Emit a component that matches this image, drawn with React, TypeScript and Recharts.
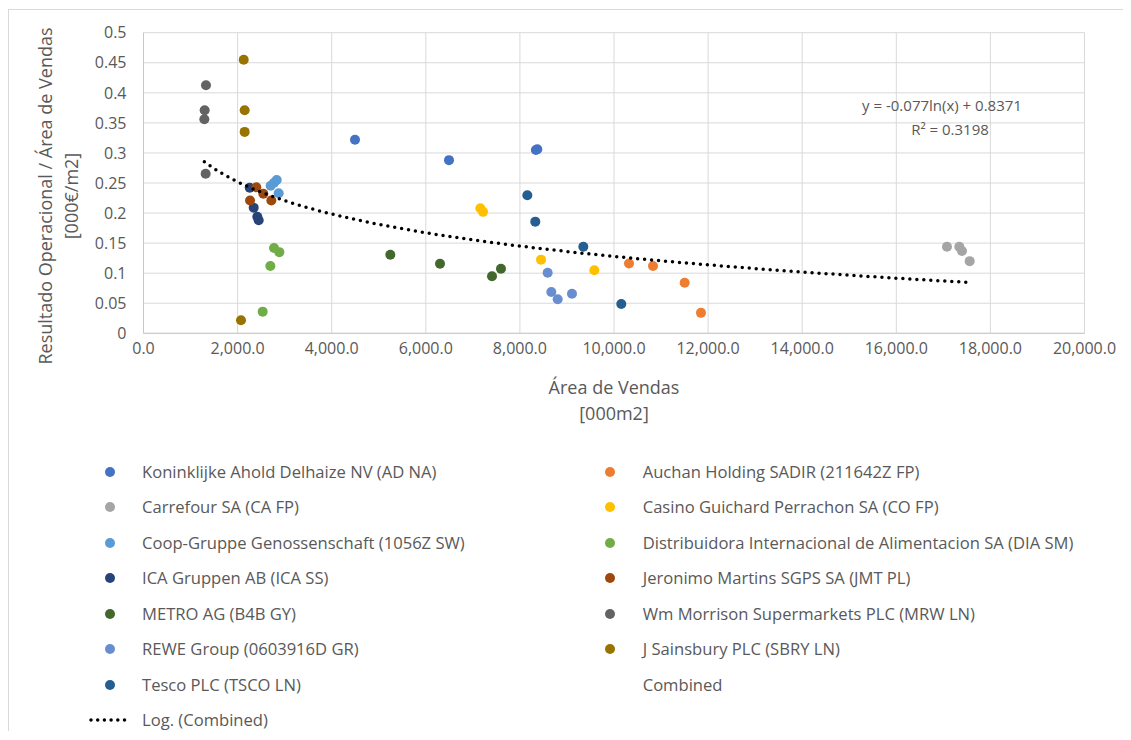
import React from 'react';
import { ScatterChart, Scatter, XAxis, YAxis, CartesianGrid } from 'recharts';

// ---- Data ----
const seriesNames = [
  'Koninklijke Ahold Delhaize NV (AD NA)',
  'Auchan Holding SADIR (211642Z FP)',
  'Carrefour SA (CA FP)',
  'Casino Guichard Perrachon SA (CO FP)',
  'Coop-Gruppe Genossenschaft (1056Z SW)',
  'Distribuidora Internacional de Alimentacion SA (DIA SM)',
  'ICA Gruppen AB (ICA SS)',
  'Jeronimo Martins SGPS SA (JMT PL)',
  'METRO AG (B4B GY)',
  'Wm Morrison Supermarkets PLC (MRW LN)',
  'REWE Group (0603916D GR)',
  'J Sainsbury PLC (SBRY LN)',
  'Tesco PLC (TSCO LN)',
];
const seriesColors = [
  '#4472C4', '#ED7D31', '#A5A5A5', '#FFC000', '#5B9BD5', '#70AD47',
  '#264478', '#9E480E', '#43682B', '#636363', '#698ED0', '#997300', '#255E91',
];

const aholdArea = [4495, 6493, 8340, 8370];
const aholdResult = [0.322, 0.288, 0.305, 0.306];
const auchanArea = [10319, 10829, 11502, 11849];
const auchanResult = [0.116, 0.112, 0.084, 0.034];
const carrefourArea = [17077, 17339, 17396, 17560];
const carrefourResult = [0.144, 0.144, 0.137, 0.12];
const casinoArea = [7159, 7216, 8449, 9582];
const casinoResult = [0.208, 0.202, 0.1225, 0.105];
const coopArea = [2703, 2774, 2831, 2873];
const coopResult = [0.2455, 0.2505, 0.255, 0.233];
const diaArea = [2774, 2887, 2696, 2533];
const diaResult = [0.142, 0.135, 0.112, 0.036];
const icaArea = [2257, 2342, 2419, 2448];
const icaResult = [0.242, 0.209, 0.194, 0.188];
const jmtArea = [2398, 2547, 2264, 2717];
const jmtResult = [0.243, 0.232, 0.221, 0.221];
const metroArea = [5246, 6302, 7407, 7598];
const metroResult = [0.1307, 0.1158, 0.0948, 0.1075];
const morrisonArea = [1328, 1300, 1293, 1321];
const morrisonResult = [0.4125, 0.371, 0.356, 0.2655];
const reweArea = [8590, 8668, 8803, 9107];
const reweResult = [0.1008, 0.0687, 0.0566, 0.0659];
const sainsburyArea = [2130, 2150, 2150, 2072];
const sainsburyResult = [0.455, 0.371, 0.335, 0.0216];
const tescoArea = [8158, 8327, 9348, 10155];
const tescoResult = [0.2295, 0.1857, 0.144, 0.0487];

const seriesArea = [aholdArea, auchanArea, carrefourArea, casinoArea, coopArea, diaArea,
  icaArea, jmtArea, metroArea, morrisonArea, reweArea, sainsburyArea, tescoArea];
const seriesResult = [aholdResult, auchanResult, carrefourResult, casinoResult, coopResult, diaResult,
  icaResult, jmtResult, metroResult, morrisonResult, reweResult, sainsburyResult, tescoResult];

const xTicks = [0, 2000, 4000, 6000, 8000, 10000, 12000, 14000, 16000, 18000, 20000];
const yTicks = [0, 0.05, 0.1, 0.15, 0.2, 0.25, 0.3, 0.35, 0.4, 0.45, 0.5];

// Logarithmic trendline of the combined series, as printed on the chart
const TREND_SLOPE = -0.077;
const TREND_INTERCEPT = 0.8371;
const trendLabel = 'y = -0.077ln(x) + 0.8371';
const r2Label = 'R² = 0.3198';

const xTitle = ['Área de Vendas', '[000m2]'];
const yTitle = ['Resultado Operacional / Área de Vendas', '[000€/m2]'];

// ---- Derived ----
const series = seriesNames.map((name, i) => ({
  name,
  color: seriesColors[i],
  data: seriesArea[i].map((x, j) => ({ x, y: seriesResult[i][j] })),
}));
const allX = seriesArea.flat();
const minX = Math.min(...allX);
const maxX = Math.max(...allX);
const TREND_STEPS = 80;
const trendData = Array.from({ length: TREND_STEPS + 1 }, (_, k) => {
  const x = minX + ((maxX - minX) * k) / TREND_STEPS;
  return { x, y: TREND_SLOPE * Math.log(x) + TREND_INTERCEPT };
});

const FONT = '"Open Sans", "Noto Sans", sans-serif';
const TEXT = '#595959';

const fmtX = (v: number) => v.toLocaleString('en-US', { minimumFractionDigits: 1, maximumFractionDigits: 1 });
const fmtY = (v: number) => String(Number(v.toFixed(2)));

const legendItems = [
  ...series.map((s) => ({ name: s.name, color: s.color, kind: 'dot' })),
  { name: 'Combined', color: 'none', kind: 'none' },
  { name: 'Log. (Combined)', color: '#000', kind: 'line' },
];

// page -> content coordinates (content box origin at page (9,10))
const OX = 9;
const OY = 10;

export default function App() {
  return (
    <div
      style={{
        position: 'relative',
        top: 1,
        width: 1122,
        height: 722,
        borderLeft: '1px solid #d9d9d9',
        borderTop: '1px solid #d9d9d9',
        fontFamily: FONT,
        color: TEXT,
        overflow: 'hidden',
      }}
    >
      <div style={{ position: 'absolute', left: 0, top: 0 }}>
        <ScatterChart
          width={1114}
          height={360}
          margin={{ top: 22.7, right: 38.5, left: 0, bottom: 6.7 }}
        >
          <CartesianGrid stroke="#d9d9d9" strokeWidth={1} />
          <XAxis
            type="number"
            dataKey="x"
            domain={[0, 20000]}
            ticks={xTicks}
            tickFormatter={fmtX}
            tickLine={false}
            tickSize={0}
            tickMargin={9}
            height={30}
            axisLine={{ stroke: '#c8c8c8' }}
            tick={{ fill: TEXT, fontSize: 16, fontFamily: FONT }}
            interval={0}
            allowDataOverflow
          />
          <YAxis
            type="number"
            dataKey="y"
            domain={[0, 0.5]}
            ticks={yTicks}
            tickFormatter={fmtY}
            tickLine={false}
            tickSize={0}
            tickMargin={17}
            width={134.5}
            axisLine={{ stroke: '#c8c8c8' }}
            tick={{ fill: TEXT, fontSize: 16, fontFamily: FONT }}
            interval={0}
            allowDataOverflow
          />
          {series.map((s) => (
            <Scatter
              key={s.name}
              name={s.name}
              data={s.data}
              fill={s.color}
              isAnimationActive={false}
              shape={(p: any) => <circle cx={p.cx} cy={p.cy} r={5} fill={s.color} />}
            />
          ))}
          <Scatter
            name="Log. (Combined)"
            data={trendData}
            isAnimationActive={false}
            line={{ stroke: '#000', strokeWidth: 3.5, strokeDasharray: '0 7', strokeLinecap: 'round', fill: 'none' }}
            lineType="joint"
            shape={() => <g />}
          />
        </ScatterChart>
      </div>

      {/* Trendline equation */}
      <div style={{ position: 'absolute', left: 942 - OX, top: 105 - OY, transform: 'translate(-50%, -50%)', fontSize: 15, whiteSpace: 'nowrap' }}>
        {trendLabel}
      </div>
      <div style={{ position: 'absolute', left: 950 - OX, top: 129 - OY, transform: 'translate(-50%, -50%)', fontSize: 15, whiteSpace: 'nowrap' }}>
        {r2Label}
      </div>

      {/* X axis title */}
      <div style={{ position: 'absolute', left: 614 - OX, top: 400 - OY, transform: 'translate(-50%, -50%)', fontSize: 18, lineHeight: '26px', textAlign: 'center', whiteSpace: 'nowrap' }}>
        <div>{xTitle[0]}</div>
        <div>{xTitle[1]}</div>
      </div>

      {/* Y axis title */}
      <div style={{ position: 'absolute', left: 58 - OX, top: 196 - OY, transform: 'translate(-50%, -50%) rotate(-90deg)', fontSize: 18, lineHeight: '26px', textAlign: 'center', whiteSpace: 'nowrap' }}>
        <div>{yTitle[0]}</div>
        <div>{yTitle[1]}</div>
      </div>

      {/* Legend */}
      {legendItems.map((it, i) => {
        const row = Math.floor(i / 2);
        const col = i % 2;
        const cy = 471.5 + row * 35.5 - OY;
        const markerX = (col === 0 ? 109.5 : 609.7) - OX;
        const textX = (col === 0 ? 142 : 642.7) - OX;
        return (
          <React.Fragment key={it.name}>
            {it.kind === 'dot' && (
              <div style={{ position: 'absolute', left: markerX - 5, top: cy - 5, width: 10, height: 10, borderRadius: 5, background: it.color }} />
            )}
            {it.kind === 'line' && (
              <svg style={{ position: 'absolute', left: 88 - OX, top: cy - 4 }} width={46} height={8}>
                <line x1={3} y1={4} x2={43} y2={4} stroke="#000" strokeWidth={3.5} strokeDasharray="0 6.7" strokeLinecap="round" />
              </svg>
            )}
            <div style={{ position: 'absolute', left: textX, top: cy - 12, height: 24, lineHeight: '24px', fontSize: 16.6, whiteSpace: 'nowrap' }}>
              {it.name}
            </div>
          </React.Fragment>
        );
      })}
    </div>
  );
}
